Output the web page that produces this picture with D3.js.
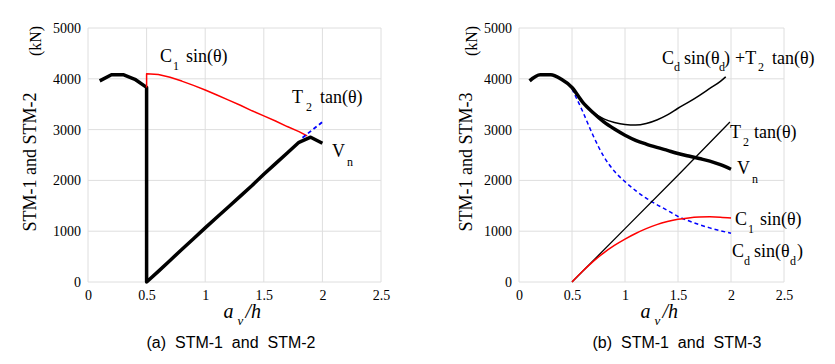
<!DOCTYPE html>
<html>
<head>
<meta charset="utf-8">
<script src="https://cdn.jsdelivr.net/npm/d3@7"></script>
<style>
  body { margin: 0; background: #fff; }
  svg { display: block; }
</style>
</head>
<body>
<svg width="835" height="364"></svg>
<script>
// values (x = av/h, y = kN)
var xTicks = [0, 0.5, 1, 1.5, 2, 2.5];
var yTicks = [0, 1000, 2000, 3000, 4000, 5000];

// panel (a) STM-1 and STM-2
var vnA = [[0.1,3960],[0.2,4080],[0.3,4080],[0.4,3990],[0.5,3830],[0.5,0],[0.6,210],[0.7,425],[0.8,640],
  [0.9,850],[1.0,1065],[1.1,1275],[1.2,1480],[1.3,1690],[1.4,1900],[1.5,2120],[1.6,2330],[1.7,2540],
  [1.8,2750],[1.9,2850],[2.0,2730]];
var c1A = [[0.5,3830],[0.5,4100],[0.6,4085],[0.7,4030],[0.8,3955],[0.9,3870],[1.0,3780],[1.1,3680],
  [1.2,3580],[1.3,3480],[1.4,3370],[1.5,3270],[1.6,3170],[1.7,3060],[1.8,2960],[1.87,2875]];
var t2A = [[1.83,2840],[2.0,3150]];

// panel (b) STM-1 and STM-3
var vnB = [[0.1,3960],[0.2,4080],[0.3,4080],[0.4,3990],[0.5,3830],[0.6,3540],[0.7,3330],[0.8,3150],
  [0.9,3010],[1.0,2890],[1.1,2790],[1.2,2715],[1.3,2650],[1.4,2590],[1.5,2530],[1.6,2480],[1.7,2430],
  [1.8,2380],[1.9,2310],[2.0,2220]];
var sumB = [[0.5,3830],[0.6,3540],[0.7,3340],[0.8,3210],[0.9,3140],[1.0,3100],[1.1,3090],[1.2,3120],
  [1.3,3190],[1.4,3290],[1.5,3420],[1.6,3540],[1.7,3670],[1.8,3810],[1.9,3950],[1.95,4040]];
var t2B = [[0.5,0],[1.0,1050],[1.5,2100],[1.99,3150]];
var c1B = [[0.5,0],[0.6,210],[0.7,405],[0.8,575],[0.9,720],[1.0,845],[1.1,955],[1.2,1050],[1.3,1130],
  [1.4,1190],[1.5,1235],[1.6,1262],[1.7,1278],[1.8,1283],[1.9,1275],[2.0,1258]];
var cdB = [[0.5,3800],[0.6,3360],[0.7,2880],[0.8,2470],[0.9,2180],[1.0,1975],[1.1,1800],[1.2,1650],
  [1.3,1525],[1.4,1410],[1.5,1290],[1.6,1205],[1.7,1130],[1.8,1065],[1.9,1010],[2.0,960]];

var svg = d3.select("svg");
var serif = "'Liberation Serif', 'Times New Roman', serif";

function drawPanel(left, right, series, yTitle, titleX, caption, captionX)
{
  var x = d3.scaleLinear().domain([0, 2.5]).range([left, right]);
  var y = d3.scaleLinear().domain([0, 5000]).range([282, 28]);

  // grid
  svg.append("g").selectAll("line").data(xTicks).enter().append("line")
    .attr("x1", d => x(d)).attr("x2", d => x(d)).attr("y1", y(0)).attr("y2", y(5000))
    .attr("stroke", "#dedede").attr("stroke-width", 1);
  svg.append("g").selectAll("line").data(yTicks).enter().append("line")
    .attr("x1", x(0)).attr("x2", x(2.5)).attr("y1", d => y(d)).attr("y2", d => y(d))
    .attr("stroke", "#dedede").attr("stroke-width", 1);

  var xaxis = d3.axisBottom(x).tickValues(xTicks).tickSize(0).tickPadding(8).tickFormat(d => d);
  var yaxis = d3.axisLeft(y).tickValues(yTicks).tickSize(0).tickPadding(7).tickFormat(d => d);

  var gx = svg.append("g").attr("transform", "translate(0," + y(0) + ")").call(xaxis);
  var gy = svg.append("g").attr("transform", "translate(" + x(0) + ",0)").call(yaxis);
  [gx, gy].forEach(function(g) {
    g.select(".domain").remove();
    g.attr("font-family", serif).attr("font-size", 14);
    g.selectAll("text").attr("font-family", serif).attr("font-size", "14px").attr("fill", "#000");
  });

  series.forEach(function(s) {
    var line = d3.line().x(d => x(d[0])).y(d => y(d[1]))
      .curve(s.smooth ? d3.curveMonotoneX : d3.curveLinear);
    svg.append("path").datum(s.data).attr("d", line)
      .attr("fill", "none").attr("stroke", s.color).attr("stroke-width", s.width)
      .attr("stroke-dasharray", s.dash || null).attr("stroke-linejoin", "round");
  });

  // axis titles
  svg.append("text").attr("transform", "translate(" + titleX + ",162) rotate(-90)")
    .attr("text-anchor", "middle").attr("font-family", serif).attr("font-size", "18px").text(yTitle);
  svg.append("text").attr("transform", "translate(" + (titleX + 5) + ",41) rotate(-90)")
    .attr("text-anchor", "middle").attr("font-family", serif).attr("font-size", "16px").text("(kN)");

  var at = svg.append("text").attr("font-family", serif).attr("font-style", "italic").attr("font-size", "20px");
  var ax = x(1.25) - 11;
  at.append("tspan").attr("x", ax).attr("y", 318).text("a");
  at.append("tspan").attr("x", ax + 14).attr("y", 325).attr("font-size", "13px").text("v");
  at.append("tspan").attr("x", ax + 22).attr("y", 318).text("/h");

  svg.append("text").attr("x", captionX).attr("y", 348).attr("text-anchor", "middle")
    .attr("font-family", "'Liberation Sans', Arial, sans-serif").attr("font-size", "16px")
    .style("white-space", "pre").text(caption);
}

// text label built from pieces; sub pieces are smaller and lowered
function label(pieces)
{
  var t = svg.append("text").attr("font-family", serif).attr("font-size", "18px");
  pieces.forEach(function(p) {
    t.append("tspan").attr("x", p[1]).attr("y", p[2])
      .attr("font-size", p[3] ? "12px" : null).text(p[0]);
  });
}

drawPanel(88, 381, [
  {data: vnA, color: "#000", width: 3.5},
  {data: c1A, color: "#ff0000", width: 1.5},
  {data: t2A, color: "#0000ff", width: 1.8, dash: "4,3"}
], "STM-1 and STM-2", 36, "(a)  STM-1  and  STM-2", 231);

drawPanel(519, 784, [
  {data: cdB, color: "#0000ff", width: 1.5, dash: "4,3", smooth: true},
  {data: t2B, color: "#000", width: 1.3},
  {data: c1B, color: "#ff0000", width: 1.5, smooth: true},
  {data: sumB, color: "#000", width: 1.5, smooth: true},
  {data: vnB, color: "#000", width: 3.5, smooth: true}
], "STM-1 and STM-3", 472, "(b)  STM-1  and  STM-3", 677);

// annotations panel (a)
label([["C",160,62],["1",173,70,1],["sin(θ)",186,62]]);
label([["T",292,103],["2",306,111,1],["tan(θ)",320,103]]);
label([["V",332,157],["n",347,166,1]]);

// annotations panel (b)
label([["C",662,64],["d",674,71,1],["sin(θ",684,64],["d",719,71,1],[")",724,64],["+T",735,64],["2",758,71,1],["tan(θ)",772,64]]);
label([["T",730,138],["2",743,146,1],["tan(θ)",754,138]]);
label([["V",737,174],["n",752,183,1]]);
label([["C",735,225],["1",748,233,1],["sin(θ)",760,225]]);
label([["C",732,257],["d",744,265,1],["sin(θ",754,257],["d",790,265,1],[")",797,257]]);
</script>
</body>
</html>
